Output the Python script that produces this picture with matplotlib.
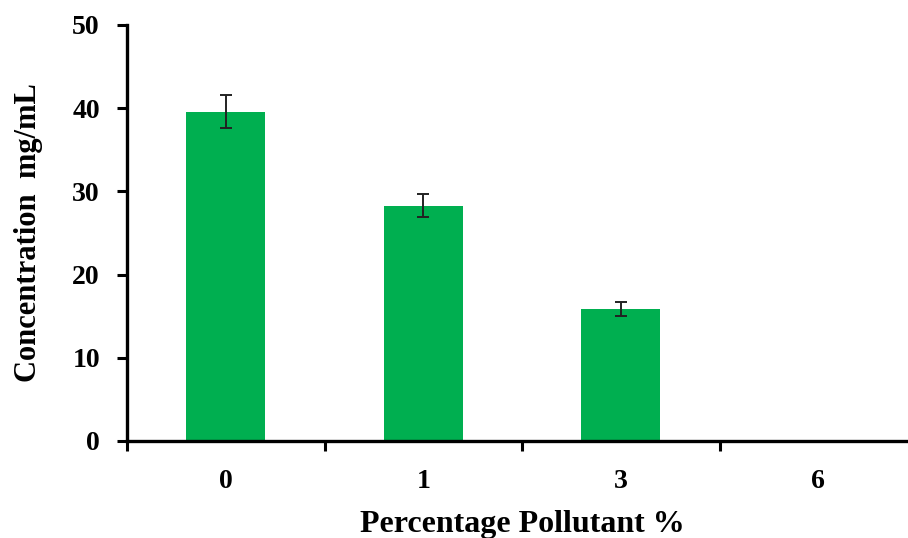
import matplotlib
matplotlib.use("Agg")
import matplotlib.pyplot as plt
import numpy as np

categories = ["0", "1", "3", "6"]
concentration = [39.6, 28.3, 15.9, 0.0]
errors = [2.0, 1.4, 0.85, 0.0]
y_ticks = [0, 10, 20, 30, 40, 50]

BAR_COLOR = "#00AF50"

plt.rcParams["font.family"] = ["Liberation Serif", "DejaVu Serif"]
plt.rcParams["font.weight"] = "bold"

fig = plt.figure(figsize=(9.08, 5.38), dpi=100, facecolor="white")
# the axes runs slightly past the right edge of the figure, as in the source
ax = fig.add_axes([127 / 908, 1 - 441 / 538, (917 - 127) / 908, (441 - 25) / 538])

x = np.arange(len(categories))
vals = np.array(concentration)
errs = np.array(errors)
has_err = errs > 0
ax.bar(x, vals, width=0.4, color=BAR_COLOR, edgecolor="none", zorder=2)
ax.errorbar(x[has_err], vals[has_err], yerr=errs[has_err], fmt="none",
            ecolor="#222222", elinewidth=1.4, capsize=4.5, capthick=1.4, zorder=3)

ax.set_xlim(-0.5, len(categories) - 0.5)
ax.set_ylim(0, 50)
ax.set_yticks(y_ticks)

ax.set_xticks(x)
ax.set_xticklabels(categories)
ax.set_xticks(np.arange(-0.5, len(categories), 1.0), minor=True)
ax.tick_params(axis="x", which="major", length=0, pad=20, labelsize=20)
ax.tick_params(axis="x", which="minor", length=7.5, width=2.2, direction="out")
ax.tick_params(axis="y", length=7.5, width=2.2, direction="out", pad=12, labelsize=20)

for side in ("top", "right"):
    ax.spines[side].set_visible(False)
for side in ("left", "bottom"):
    ax.spines[side].set_linewidth(2.4)

for lab in ax.get_xticklabels() + ax.get_yticklabels():
    lab.set_fontweight("bold")

ax.set_xlabel("Percentage Pollutant %", fontsize=23, fontweight="bold", labelpad=12)
ax.set_ylabel("Concentration  mg/mL", fontsize=22, fontweight="bold", labelpad=21)

fig.savefig("out.png", dpi=100, facecolor="white")
